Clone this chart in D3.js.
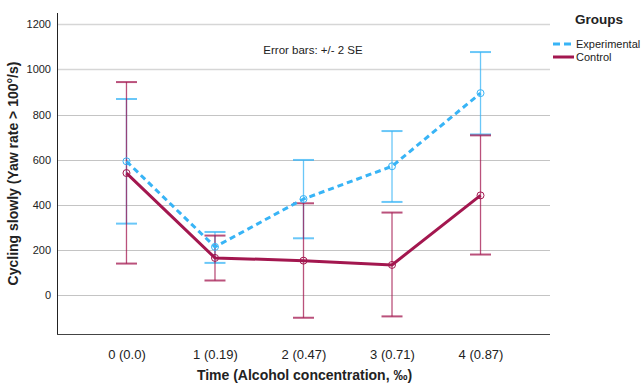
<!DOCTYPE html>
<html>
<head>
<meta charset="utf-8">
<script src="https://cdn.jsdelivr.net/npm/d3@7"></script>
<style>
  body { margin: 0; background: #fff; }
  text { font-family: "Liberation Sans", Arial, sans-serif; }
</style>
</head>
<body>
<script>
const categories = ['0 (0.0)', '1 (0.19)', '2 (0.47)', '3 (0.71)', '4 (0.87)'];
const expMean  = [593, 214, 426, 571, 895];
const expLow   = [317, 143, 252, 413, 712];
const expHigh  = [869, 280, 599, 727, 1077];
const ctrlMean = [541, 165, 153, 134, 442];
const ctrlLow  = [140, 65, -100, -94, 180];
const ctrlHigh = [944, 264, 407, 366, 708];
const yTicks = [0, 200, 400, 600, 800, 1000, 1200];

const W = 644, H = 384;
const plot = { left: 57, right: 550, top: 13, bottom: 334 };

const svg = d3.select('body').append('svg')
  .attr('width', W)
  .attr('height', H);

const x = d3.scalePoint()
  .domain(categories)
  .range([plot.left, plot.right])
  .padding(0.785);

const y = d3.scaleLinear()
  .domain([-172, 1250])
  .range([plot.bottom, plot.top]);

// gridlines
svg.append('g')
  .selectAll('line')
  .data(yTicks)
  .join('line')
  .attr('x1', plot.left)
  .attr('x2', plot.right)
  .attr('y1', d => Math.round(y(d)) + 0.5)
  .attr('y2', d => Math.round(y(d)) + 0.5)
  .attr('stroke', d => d >= 1000 ? '#d6d6d6' : '#c4c4c4')
  .attr('stroke-width', d => d >= 1000 ? 1.6 : 1);

// y axis
const yAxis = svg.append('g')
  .attr('transform', `translate(${plot.left},0)`)
  .call(d3.axisLeft(y).tickValues(yTicks).tickFormat(d3.format('d')).tickSize(0).tickPadding(6));
yAxis.select('.domain').remove();
yAxis.selectAll('text')
  .attr('font-size', 11)
  .attr('fill', '#222');

// x axis
const xAxis = svg.append('g')
  .attr('transform', `translate(0,${plot.bottom})`)
  .call(d3.axisBottom(x).tickSize(0).tickPadding(16));
xAxis.select('.domain').remove();
xAxis.selectAll('text')
  .attr('font-size', 13)
  .attr('fill', '#222');

// frame
svg.append('line')
  .attr('x1', plot.left + 0.5).attr('x2', plot.left + 0.5)
  .attr('y1', plot.top).attr('y2', plot.bottom)
  .attr('stroke', '#222').attr('stroke-width', 1);
svg.append('line')
  .attr('x1', plot.left).attr('x2', plot.right)
  .attr('y1', plot.bottom + 0.5).attr('y2', plot.bottom + 0.5)
  .attr('stroke', '#444').attr('stroke-width', 1);

// axis titles
svg.append('text')
  .attr('x', (plot.left + plot.right) / 2 + 1)
  .attr('y', 380)
  .attr('text-anchor', 'middle')
  .attr('font-size', 14)
  .attr('font-weight', 'bold')
  .attr('fill', '#222')
  .text('Time (Alcohol concentration, ‰)');

svg.append('text')
  .attr('transform', `translate(18,${(plot.top + plot.bottom) / 2}) rotate(-90)`)
  .attr('text-anchor', 'middle')
  .attr('font-size', 14)
  .attr('font-weight', 'bold')
  .attr('fill', '#222')
  .text('Cycling slowly (Yaw rate > 100°/s)');

svg.append('text')
  .attr('x', 313)
  .attr('y', 54)
  .attr('text-anchor', 'middle')
  .attr('font-size', 11.5)
  .attr('fill', '#222')
  .text('Error bars: +/- 2 SE');

const series = [
  { name: 'Experimental', mean: expMean, low: expLow, high: expHigh, color: '#38b4f6', dash: '6,4' },
  { name: 'Control', mean: ctrlMean, low: ctrlLow, high: ctrlHigh, color: '#a3174f', dash: null }
];

const cap = 10.5;
const line = d3.line()
  .x((d, i) => x(categories[i]))
  .y(d => y(d));

series.forEach(s => {
  const g = svg.append('g');
  const eb = g.append('g')
    .attr('stroke', s.color)
    .attr('stroke-opacity', 0.75)
    .attr('stroke-width', 1.3);
  categories.forEach((c, i) => {
    const cx = x(c);
    eb.append('line')
      .attr('x1', cx).attr('x2', cx)
      .attr('y1', y(s.low[i])).attr('y2', y(s.high[i]));
    [s.low[i], s.high[i]].forEach(v => {
      eb.append('line')
        .attr('x1', cx - cap).attr('x2', cx + cap)
        .attr('y1', y(v)).attr('y2', y(v))
        .attr('stroke-width', 2);
    });
  });
});

series.forEach(s => {
  svg.append('path')
    .attr('d', line(s.mean))
    .attr('fill', 'none')
    .attr('stroke', s.color)
    .attr('stroke-width', 3)
    .attr('stroke-dasharray', s.dash);
  svg.append('g')
    .selectAll('circle')
    .data(s.mean)
    .join('circle')
    .attr('cx', (d, i) => x(categories[i]))
    .attr('cy', d => y(d))
    .attr('r', 3.5)
    .attr('fill', 'none')
    .attr('stroke', s.color)
    .attr('stroke-width', 1);
});

// legend
const legend = svg.append('g');
legend.append('text')
  .attr('x', 575)
  .attr('y', 24)
  .attr('font-size', 13.5)
  .attr('font-weight', 'bold')
  .attr('fill', '#222')
  .text('Groups');
series.forEach((s, i) => {
  const ly = 44 + i * 13;
  legend.append('line')
    .attr('x1', 553).attr('x2', 574)
    .attr('y1', ly).attr('y2', ly)
    .attr('stroke', s.color)
    .attr('stroke-width', 3)
    .attr('stroke-dasharray', s.dash ? '7,4' : null);
  legend.append('text')
    .attr('x', 576)
    .attr('y', ly + 4)
    .attr('font-size', 11)
    .attr('fill', '#222')
    .text(s.name);
});
</script>
</body>
</html>
